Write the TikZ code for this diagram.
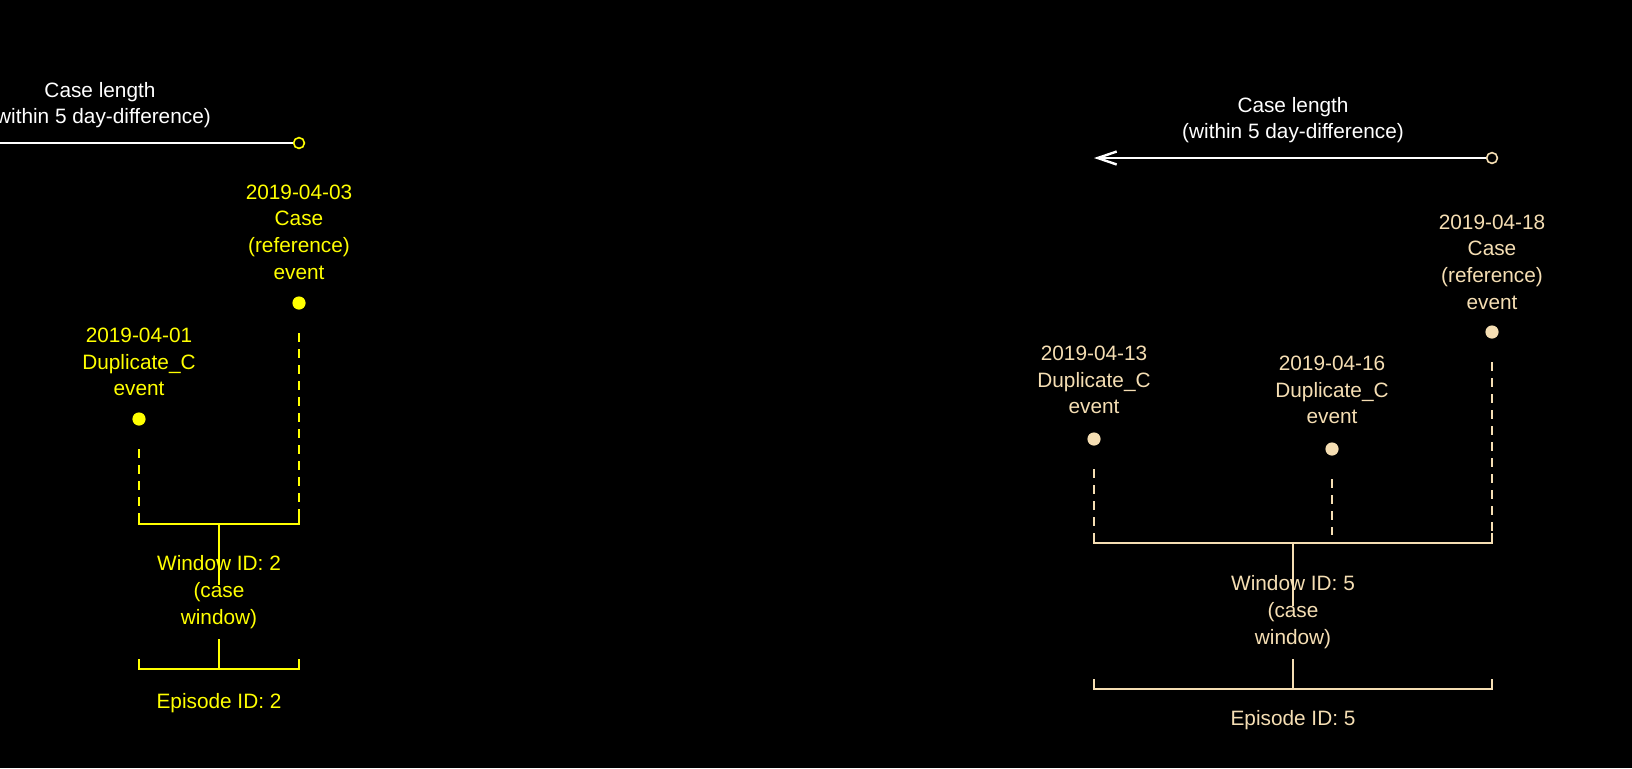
\documentclass[tikz,border=0pt]{standalone}
\usepackage{fontspec}
\setmainfont{Liberation Sans}
\usepackage{tikz}
\usetikzlibrary{arrows.meta,positioning}
\definecolor{caseyellow}{RGB}{255,255,0}
\definecolor{wheat}{RGB}{245,222,179}

\begin{document}
\begin{tikzpicture}[x=0.5pt,y=-0.5pt,
    lbl/.style={align=center,inner sep=0pt,font=\fontsize{10.4}{13.3}\selectfont},
    dot/.style={circle,fill,inner sep=0pt,minimum size=6.6pt},
    ring/.style={circle,draw,fill=black,inner sep=0pt,minimum size=5.4pt,line width=0.8pt},
    link/.style={dash pattern=on 4.5pt off 3.5pt,line width=0.85pt,shorten <=11.7pt},
    brack/.style={line width=0.85pt},
    span/.style={draw=white,line width=1.2pt,-{Straight Barb[length=9.5pt,width=6.5pt]}}]

    \useasboundingbox (0,0) rectangle (1632,768);
    \fill[black] (0,0) rectangle (1632,768);
    \clip (0,0) rectangle (1632,768);

    % Window 2
    \node[lbl,white] at (100,105) (lenL) {Case length\\(within 5 day-difference)};
    \coordinate (endL) at (-99,143);
    \node[ring,draw=caseyellow] at (299,143) (ringL) {};
    \draw[span] (ringL) -- (endL);
    \node[lbl,caseyellow] at (299,232) (refLtxt) {2019-04-03\\Case\\(reference)\\event};
    \node[dot,caseyellow] at (299,303) (refL) {};
    \node[lbl,caseyellow] at (139,362) (dupLtxt) {2019-04-01\\Duplicate\_C\\event};
    \node[dot,caseyellow] at (139,419) (dupL) {};

    \coordinate (wL1) at (139,524);
    \coordinate (wL2) at (299,524);
    \coordinate (wLm) at (219,524);
    \coordinate (wLs) at (219,585);
    \draw[link,caseyellow] (dupL) -- ([yshift=5pt]wL1);
    \draw[link,caseyellow] (refL) -- ([yshift=5pt]wL2);
    \draw[brack,caseyellow] ([yshift=5pt]wL1) -- (wL1) -- (wL2) -- ([yshift=5pt]wL2);
    \draw[brack,caseyellow] (wLm) -- (wLs);
    \node[lbl,caseyellow] at (219,592) (winLtxt) {Window ID: 2\\(case\\window)};

    \coordinate (eL1) at (139,669);
    \coordinate (eL2) at (299,669);
    \coordinate (eLm) at (219,669);
    \coordinate (eLs) at (219,639);
    \draw[brack,caseyellow] (eLs) -- (eLm);
    \draw[brack,caseyellow] ([yshift=5pt]eL1) -- (eL1) -- (eL2) -- ([yshift=5pt]eL2);
    \node[lbl,caseyellow] at (219,703) (epiLtxt) {Episode ID: 2};

    % Window 5
    \node[lbl,white] at (1293,120) (lenR) {Case length\\(within 5 day-difference)};
    \coordinate (endR) at (1094,158);
    \node[ring,draw=wheat] at (1492,158) (ringR) {};
    \draw[span] (ringR) -- (endR);
    \node[lbl,wheat] at (1492,262) (refRtxt) {2019-04-18\\Case\\(reference)\\event};
    \node[dot,wheat] at (1492,332) (refR) {};
    \node[lbl,wheat] at (1094,380) (dupRtxt) {2019-04-13\\Duplicate\_C\\event};
    \node[dot,wheat] at (1094,439) (dupR) {};
    \node[lbl,wheat] at (1332,390) (dupStxt) {2019-04-16\\Duplicate\_C\\event};
    \node[dot,wheat] at (1332,449) (dupS) {};

    \coordinate (wR1) at (1094,543);
    \coordinate (wR2) at (1492,543);
    \coordinate (wRm) at (1293,543);
    \coordinate (wRs) at (1293,606);
    \coordinate (wRd) at (1332,535);
    \draw[link,wheat] (dupR) -- ([yshift=5pt]wR1);
    \draw[link,wheat] (dupS) -- (wRd);
    \draw[link,wheat] (refR) -- ([yshift=5pt]wR2);
    \draw[brack,wheat] ([yshift=5pt]wR1) -- (wR1) -- (wR2) -- ([yshift=5pt]wR2);
    \draw[brack,wheat] (wRm) -- (wRs);
    \node[lbl,wheat] at (1293,612) (winRtxt) {Window ID: 5\\(case\\window)};

    \coordinate (eR1) at (1094,689);
    \coordinate (eR2) at (1492,689);
    \coordinate (eRm) at (1293,689);
    \coordinate (eRs) at (1293,659);
    \draw[brack,wheat] (eRs) -- (eRm);
    \draw[brack,wheat] ([yshift=5pt]eR1) -- (eR1) -- (eR2) -- ([yshift=5pt]eR2);
    \node[lbl,wheat] at (1293,720) (epiRtxt) {Episode ID: 5};
\end{tikzpicture}
\end{document}
